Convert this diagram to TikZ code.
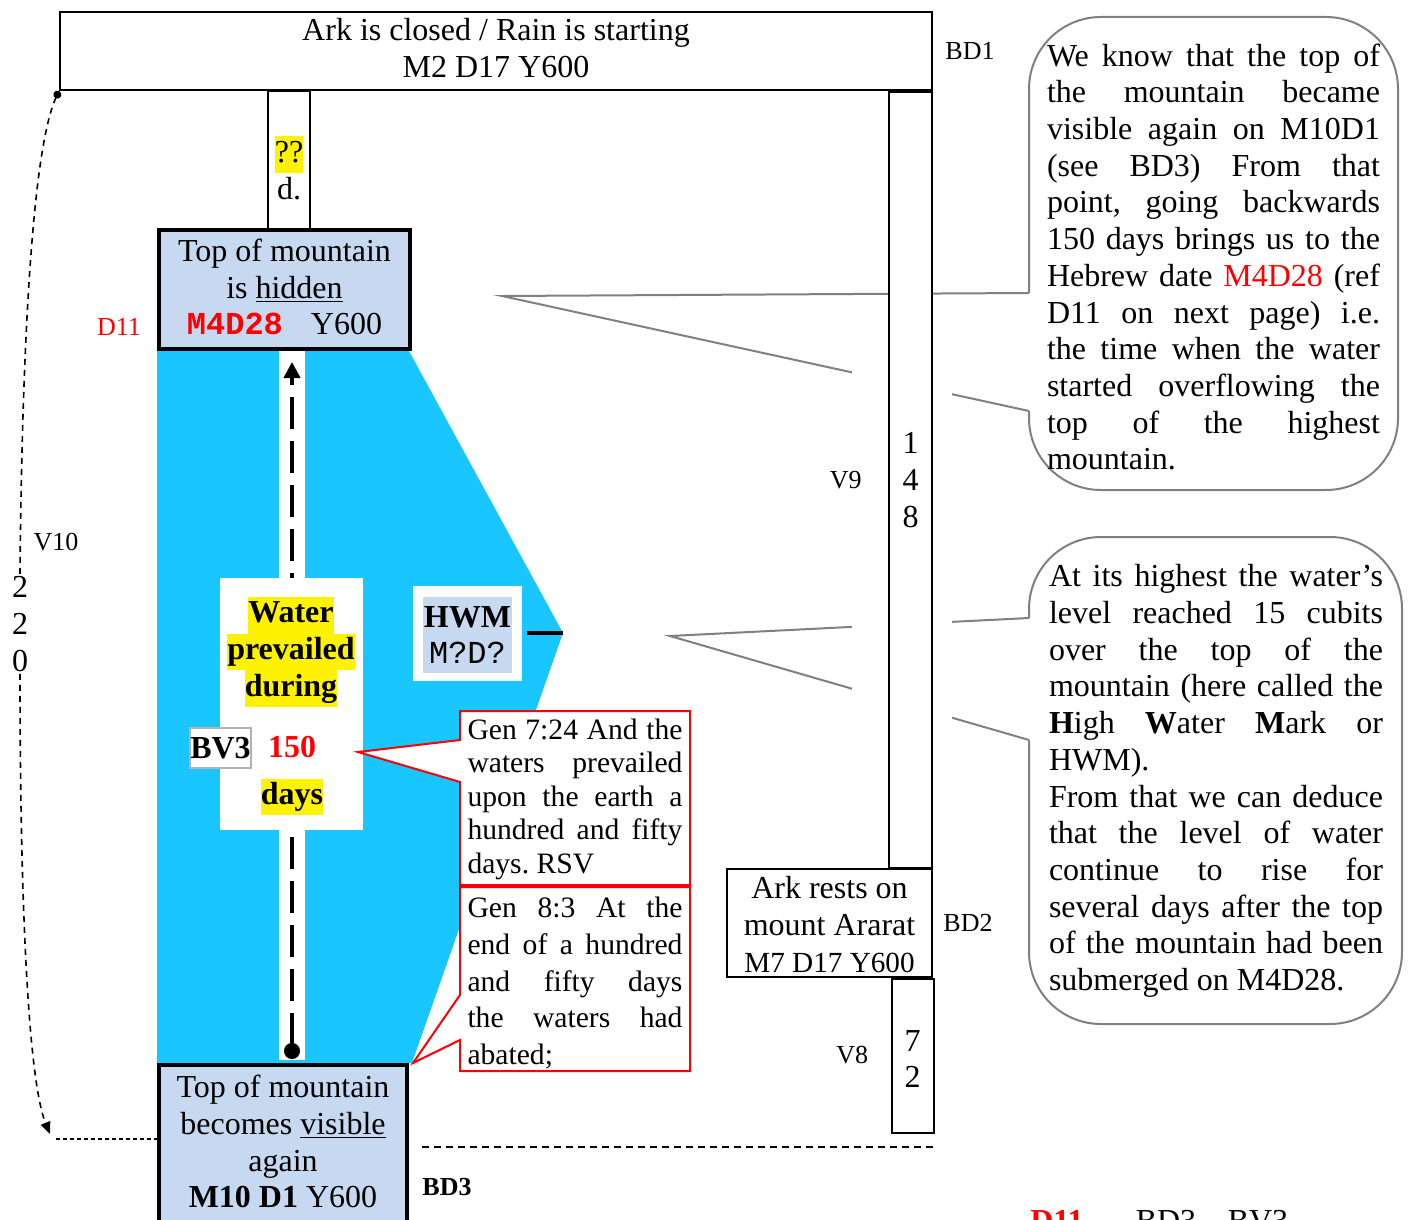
\documentclass[tikz,border=0pt]{standalone}
\usepackage{fontspec}
\setmainfont{Liberation Serif}
\setmonofont{Liberation Mono}
\usetikzlibrary{positioning,arrows.meta}
\definecolor{water}{RGB}{26,198,255}
\definecolor{boxblue}{RGB}{198,217,240}
\definecolor{notegray}{RGB}{128,128,128}
\newcommand{\bigtext}{\fontsize{16}{18.4}\selectfont}
\newcommand{\tagtext}{\fontsize{13}{15.5}\selectfont}
\newcommand{\hilite}[1]{{\setlength{\fboxsep}{0pt}\colorbox{yellow}{\strut #1}}}
\newcommand{\redcode}[1]{{\ttfamily\bfseries\color{red}#1}}
\tolerance=10000 \hbadness=10000 \hyphenpenalty=10000 \frenchspacing
\tikzset{date box/.style={draw,line width=1pt,inner sep=0pt},
  water box/.style={draw,line width=2pt,fill=boxblue,inner sep=0pt},
  bar box/.style={draw,line width=1pt,fill=white,align=center,font=\bigtext,inner sep=0pt},
  box text/.style={font=\bigtext,align=center,inner sep=0pt},
  tag/.style={font=\tagtext,inner sep=2pt},
  verse text/.style={font=\fontsize{14.8}{16.75}\selectfont,align=justify,text width=107.5pt,inner sep=0pt},
  verse line/.style={draw=red,line width=1pt,fill=white},
  note text/.style={font=\fontsize{16}{18.35}\selectfont,align=justify,text width=166.5pt,inner sep=0pt},
  note line/.style={draw=notegray,line width=1pt},
  flow arrow/.style={line width=2pt,dash pattern=on 16pt off 6pt,{Circle[length=8pt]}-{Triangle[length=8pt,width=8pt]}},
  dashed curve/.style={line width=0.8pt,dash pattern=on 3pt off 2.5pt},
  foot rule/.style={line width=1.2pt,dash pattern=on 2pt off 1.5pt},
  bottom rule/.style={line width=0.8pt,dash pattern=on 3.5pt off 2.5pt},
}

\begin{document}
\begin{tikzpicture}[x=0.5pt,y=-0.5pt]
\useasboundingbox (0,0) rectangle (1408,1220);
\clip (0,0) rectangle (1408,1220);

\coordinate (hwmtip) at (563,633);
\coordinate (tip724) at (358,752);
\coordinate (tip83) at (413,1063);
\coordinate (tipA) at (502,296);
\coordinate (tipB) at (670,636);

% the water
\fill[water] (157,351) rectangle (409,1063);
\fill[water] (409,351) -- (hwmtip) -- (412,1063) -- (409,1063) -- cycle;
\fill[white] (279,351) rectangle (305,1060);

% notes on the right
\draw[note line, rounded corners=36pt] (1029,411) -- (1029,490) -- (1398,490) -- (1398,17) -- (1029,17) -- (1029,293);
\draw[note line] (1029,293) -- (tipA) -- (1029,411);
\node[note text] (noteA) at (1213.5,257) {We know that the top of\linebreak the mountain became\linebreak visible again on M10D1\linebreak (see BD3) From that\linebreak point, going backwards\linebreak 150 days brings us to the\linebreak Hebrew date \textcolor{red}{M4D28} (ref\linebreak D11 on next page) i.e.\linebreak the time when the water\linebreak started overflowing the\linebreak top of the highest\linebreak mountain.};

\draw[note line, rounded corners=36pt] (1029,740) -- (1029,1024) -- (1402,1024) -- (1402,537) -- (1029,537) -- (1029,618);
\draw[note line] (1029,618) -- (tipB) -- (1029,740);
\node[note text, text width=167pt] (noteB) at (1216,781) {At its highest the water’s\linebreak level reached 15 cubits\linebreak over the top of the\linebreak mountain (here called the\linebreak \textbf{H}igh \textbf{W}ater \textbf{M}ark or\linebreak HWM).\\From that we can deduce\linebreak that the level of water\linebreak continue to rise for\linebreak several days after the top\linebreak of the mountain had been\linebreak submerged on M4D28.};

\fill[white] (852,340) rectangle (952,860);

% top box
\node[date box, minimum width=436pt, minimum height=39pt] (arkclosed) at (496,51) {};
\node[box text] (arkclosedtext) at (496,48) {Ark is closed / Rain is starting\\M2 D17 Y600};
\node[tag, right=4pt of arkclosed] (bd1) {BD1};

\node[bar box, minimum width=21pt, minimum height=68.5pt] (qbar) at (289,160) {};
\node[box text] (qbartext) at (289,168) {\hilite{??}\\d.};

% mountain hidden
\node[water box, minimum width=125.5pt, minimum height=59.5pt] (hidden) at (284.5,289.5) {};
\node[box text] (hiddentext) at (284.5,287) {Top of mountain\\is \underline{hidden}\\\redcode{M4D28}\hspace{14pt}Y600};
\node[tag, text=red] (d11) at (119,327) {D11};

% 150 days
\coordinate (arrowfoot) at (292,1059);
\coordinate (arrowtop) at (292,362);
\draw[flow arrow] (arrowfoot) -- (arrowtop);

\node[fill=white, minimum width=71.5pt, minimum height=126pt] (prevbox) at (291.5,704) {};
\node[box text, font=\bigtext\bfseries] (prevtext) at (291,652) {\hilite{Water}\\\hilite{prevailed}\\\hilite{during}};
\node[box text, font=\bigtext\bfseries, text=red] (n150) at (292,747) {150};
\node[box text, font=\bigtext\bfseries] (days) at (292,797) {\hilite{days}};
\node[draw=gray!60, line width=1pt, fill=white, font=\bigtext\bfseries, inner xsep=0pt, minimum height=20pt] (bv3) at (220.5,748) {BV3};

% high water mark
\node[fill=white, minimum width=54.5pt, minimum height=47.5pt] (hwmouter) at (467.5,633) {};
\node[box text, fill=boxblue, minimum width=44.5pt, minimum height=38pt] (hwm) at (467.5,635) {\textbf{HWM}\\\texttt{M?D?}};
\draw[line width=2pt] ([xshift=2.5pt]hwmouter.east) -- (hwmtip);

% verses
\filldraw[verse line] (460,711) -- (690,711) -- (690,885) -- (460,885) -- (460,782) -- (tip724) -- (460,740) -- cycle;
\node[verse text] (gen724) at (575,799) {Gen 7:24 And the\linebreak waters prevailed\linebreak upon the earth a\linebreak hundred and fifty\linebreak days. RSV};
\filldraw[verse line] (460,887) -- (690,887) -- (690,1071) -- (460,1071) -- (460,1040) -- (tip83) -- (460,995) -- cycle;
\node[verse text, font=\fontsize{14.8}{18.35}\selectfont] (gen83) at (575,983) {Gen 8:3 At the\linebreak end of a hundred\linebreak and fifty days\linebreak the waters had\linebreak abated;};

% 148 and 72 days
\node[bar box, minimum width=21.5pt, minimum height=387.5pt] (bar148) at (910.5,480) {1\\4\\8};
\node[tag, left=11pt of bar148] (v9) {V9};
\node[date box, minimum width=102.5pt, minimum height=54pt] (arkrests) at (829.5,923) {};
\node[box text] (arkreststext) at (829.5,924.5) {Ark rests on\\mount Ararat\\{\fontsize{14.6}{16}\selectfont M7 D17 Y600}};
\node[tag, right=3pt of arkrests] (bd2) {BD2};
\node[bar box, minimum width=21pt, minimum height=77pt] (bar72) at (912.5,1055.5) {};
\node[box text] (bar72text) at (912.5,1059) {7\\2};
\node[tag, left=9pt of bar72] (v8) {V8};

% mountain visible
\node[water box, minimum width=124pt, minimum height=80pt] (visbox) at (283,1145) {};
\node[box text] (visboxtext) at (283,1141.5) {Top of mountain\\becomes \underline{visible}\\again\\\textbf{M10 D1} Y600};
\node[tag, font=\tagtext\bfseries] (bd3) at (447,1187) {BD3};
\draw[bottom rule] (422,1147) -- (934,1147);

% 220 days
\node[box text, inner sep=1pt] (n220) at (20,624) {2\\2\\0};
\node[tag] (v10) at (56,542) {V10};
\coordinate (v10end) at (50,1134);
\coordinate (v10foot) at (56,1139);
\draw[dashed curve, {Circle[length=4pt]}-] (arkclosed.south west) .. controls (32,150) and (22,350) .. (n220.north);
\draw[dashed curve, -{Triangle[length=6pt,width=5pt]}] (n220.south) .. controls (20,900) and (28,1080) .. (v10end);
\draw[foot rule] (v10foot) -- (v10foot -| visbox.west);

% next page
\node[font=\bigtext\bfseries, text=red, anchor=base] (d11next) at (1057,1231) {D11};
\node[font=\bigtext, anchor=base] (bd3next) at (1166,1231) {BD3};
\node[font=\bigtext, anchor=base] (bv3next) at (1258,1231) {BV3};
\end{tikzpicture}
\end{document}
